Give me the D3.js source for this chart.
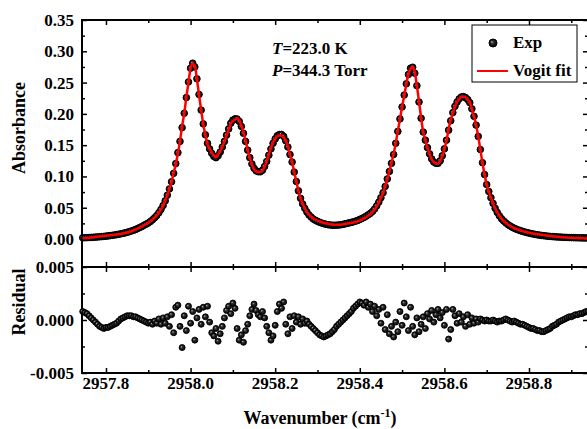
<!DOCTYPE html>
<html lang="en">
<head>
<meta charset="UTF-8">
<title>Absorbance and residual</title>
<script src="https://d3js.org/d3.v7.min.js"></script>
<style>
  body { margin: 0; background: #fff; }
  text { font-family: "Liberation Serif", "Times New Roman", serif; font-weight: bold; fill: #000; }
</style>
</head>
<body>
<script>
// sampling grid of the measured spectrum (cm-1)
const waveStart = 2957.745
const waveStep = 0.005

// measured absorbance, one value per grid point
const absorbance = [
  0.0020,0.0021,0.0023,0.0024,0.0026,0.0028,0.0030,0.0033,0.0036,0.0039,
  0.0042,0.0046,0.0050,0.0054,0.0059,0.0064,0.0070,0.0076,0.0083,0.0090,
  0.0098,0.0107,0.0117,0.0128,0.0140,0.0153,0.0168,0.0184,0.0200,0.0220,
  0.0238,0.0255,0.0280,0.0308,0.0340,0.0376,0.0420,0.0472,0.0535,0.0610,
  0.0700,0.0800,0.0915,0.1050,0.1205,0.1380,0.1560,0.1780,0.2010,0.2260,
  0.2510,0.2730,0.2810,0.2750,0.2560,0.2310,0.2060,0.1840,0.1665,0.1530,
  0.1440,0.1370,0.1320,0.1300,0.1330,0.1390,0.1470,0.1560,0.1660,0.1760,
  0.1850,0.1900,0.1920,0.1918,0.1880,0.1800,0.1690,0.1560,0.1420,0.1300,
  0.1200,0.1130,0.1090,0.1075,0.1075,0.1100,0.1160,0.1240,0.1340,0.1440,
  0.1530,0.1600,0.1650,0.1670,0.1670,0.1640,0.1570,0.1470,0.1350,0.1230,
  0.1070,0.0920,0.0770,0.0650,0.0560,0.0490,0.0430,0.0385,0.0350,0.0320,
  0.0300,0.0283,0.0268,0.0255,0.0245,0.0236,0.0229,0.0224,0.0221,0.0220,
  0.0221,0.0224,0.0228,0.0234,0.0242,0.0250,0.0258,0.0266,0.0275,0.0286,
  0.0298,0.0312,0.0328,0.0345,0.0365,0.0387,0.0410,0.0440,0.0480,0.0530,
  0.0590,0.0660,0.0740,0.0840,0.0960,0.1080,0.1210,0.1350,0.1530,0.1720,
  0.1920,0.2110,0.2300,0.2480,0.2630,0.2730,0.2745,0.2650,0.2450,0.2190,
  0.1930,0.1710,0.1580,0.1460,0.1360,0.1280,0.1230,0.1210,0.1210,0.1250,
  0.1330,0.1440,0.1580,0.1740,0.1890,0.2020,0.2120,0.2190,0.2240,0.2270,
  0.2275,0.2260,0.2230,0.2180,0.2080,0.1960,0.1820,0.1640,0.1430,0.1220,
  0.1030,0.0870,0.0760,0.0660,0.0570,0.0490,0.0425,0.0370,0.0325,0.0290,
  0.0260,0.0232,0.0210,0.0190,0.0173,0.0158,0.0145,0.0133,0.0122,0.0112,
  0.0103,0.0095,0.0087,0.0080,0.0073,0.0067,0.0062,0.0057,0.0053,0.0049,
  0.0045,0.0042,0.0039,0.0036,0.0034,0.0032,0.0030,0.0028,0.0027,0.0025,
  0.0024,0.0023,0.0022,0.0021,0.0020,0.0019,0.0018,0.0018,0.0017,0.0017
]

// residual (Exp - fit), same grid
const residual = [
  0.0008,0.0007,0.0006,0.0004,0.0002,0.0000,-0.0002,-0.0004,-0.0006,-0.0007,
  -0.0008,-0.0007,-0.0007,-0.0006,-0.0005,-0.0004,-0.0003,-0.0001,0.0001,0.0002,
  0.0003,0.0004,0.0004,0.0004,0.0003,0.0003,0.0002,0.0001,0.0000,-0.0001,
  -0.0002,-0.0003,-0.0002,-0.0004,-0.0001,-0.0003,0.0001,-0.0004,0.0002,-0.0003,
  0.0003,-0.0006,0.0005,-0.0012,0.0012,0.0014,-0.0006,-0.0026,0.0004,-0.0010,
  0.0013,-0.0003,0.0008,-0.0019,0.0002,0.0010,-0.0004,0.0012,0.0003,0.0013,
  -0.0002,-0.0012,-0.0015,-0.0008,-0.0020,-0.0013,-0.0006,0.0002,0.0009,0.0013,
  0.0006,0.0016,0.0011,-0.0008,-0.0019,-0.0014,-0.0021,-0.0010,-0.0004,0.0004,
  0.0010,0.0015,0.0009,0.0005,0.0003,0.0008,0.0002,-0.0006,-0.0012,-0.0019,
  -0.0015,-0.0005,0.0008,0.0015,0.0011,0.0017,-0.0004,-0.0013,0.0003,-0.0008,
  0.0004,-0.0002,0.0003,-0.0004,0.0001,-0.0003,-0.0001,-0.0004,-0.0006,-0.0008,
  -0.0010,-0.0012,-0.0014,-0.0015,-0.0016,-0.0015,-0.0014,-0.0013,-0.0011,-0.0009,
  -0.0006,-0.0004,-0.0002,0.0000,0.0002,0.0004,0.0006,0.0008,0.0011,0.0013,
  0.0015,0.0017,0.0016,0.0014,0.0017,0.0012,0.0015,0.0008,0.0013,0.0004,
  0.0010,-0.0003,0.0012,-0.0009,0.0005,-0.0013,-0.0006,-0.0016,-0.0002,-0.0011,
  0.0008,-0.0005,0.0016,0.0003,-0.0010,0.0012,-0.0006,-0.0014,0.0002,-0.0011,
  -0.0004,0.0003,-0.0008,0.0006,0.0001,0.0009,-0.0002,0.0005,0.0010,0.0002,
  0.0007,-0.0005,0.0010,-0.0018,-0.0009,0.0010,0.0004,-0.0003,0.0006,-0.0002,
  0.0003,-0.0006,0.0005,-0.0004,0.0002,-0.0003,0.0001,-0.0002,0.0001,0.0000,
  -0.0001,0.0000,-0.0001,-0.0001,0.0000,-0.0001,-0.0002,-0.0001,-0.0001,0.0000,
  0.0001,0.0000,-0.0001,-0.0002,-0.0001,-0.0002,-0.0003,-0.0004,-0.0004,-0.0005,
  -0.0006,-0.0007,-0.0008,-0.0008,-0.0009,-0.0010,-0.0010,-0.0011,-0.0011,-0.0010,
  -0.0009,-0.0008,-0.0006,-0.0005,-0.0004,-0.0002,-0.0001,0.0000,0.0001,0.0002,
  0.0003,0.0003,0.0004,0.0005,0.0005,0.0006,0.0006,0.0007,0.0008,0.0008
]

const xTicks = [2957.8, 2958.0, 2958.2, 2958.4, 2958.6, 2958.8]
const xTickLabels = ["2957.8", "2958.0", "2958.2", "2958.4", "2958.6", "2958.8"]
const xMinor = [2957.9, 2958.1, 2958.3, 2958.5, 2958.7, 2958.9]
const absTicks = [0.00, 0.05, 0.10, 0.15, 0.20, 0.25, 0.30, 0.35]
const absTickLabels = ["0.00", "0.05", "0.10", "0.15", "0.20", "0.25", "0.30", "0.35"]
const absMinor = [0.025, 0.075, 0.125, 0.175, 0.225, 0.275, 0.325]
const resTicks = [-0.005, 0.000, 0.005]
const resTickLabels = ["-0.005", "0.000", "0.005"]
const resMinor = [-0.0025, 0.0025]

const width = 587
const height = 429
const left = 82, right = 588
const top1 = 20, bot1 = 267, bot2 = 373

const pts = absorbance.map(function (a, i) {
  return { w: waveStart + i * waveStep, a: a, r: residual[i] }
})

const svg = d3.select("body").append("svg")
  .attr("width", width)
  .attr("height", height)

// shaded ball used for the Exp symbols
const grad = svg.append("defs").append("radialGradient")
  .attr("id", "ball").attr("cx", "50%").attr("cy", "50%").attr("r", "50%")
  .attr("fx", "35%").attr("fy", "35%")
grad.append("stop").attr("offset", "0%").attr("stop-color", "#bbb")
grad.append("stop").attr("offset", "35%").attr("stop-color", "#333")
grad.append("stop").attr("offset", "100%").attr("stop-color", "#000")

const x = d3.scaleLinear().domain([2957.7433, 2958.9395]).range([left, right])
const yA = d3.scaleLinear().domain([-0.0447, 0.35]).range([bot1, top1])
const yR = d3.scaleLinear().domain([-0.005, 0.005]).range([bot2, bot1])

// ticks pointing inward on all four sides of a panel
function frame(yScale, yMaj, yMin, yLabels, yTop, yBot) {
  const g = svg.append("g")
  g.append("g").attr("transform", `translate(0,${yBot})`)
    .call(d3.axisBottom(x).tickValues(xTicks).tickSize(-5).tickFormat(""))
  g.append("g").attr("transform", `translate(0,${yBot})`)
    .call(d3.axisBottom(x).tickValues(xMinor).tickSize(-3).tickFormat(""))
  g.append("g").attr("transform", `translate(0,${yTop})`)
    .call(d3.axisTop(x).tickValues(xTicks).tickSize(-5).tickFormat(""))
  g.append("g").attr("transform", `translate(0,${yTop})`)
    .call(d3.axisTop(x).tickValues(xMinor).tickSize(-3).tickFormat(""))
  g.append("g").attr("transform", `translate(${left},0)`)
    .call(d3.axisLeft(yScale).tickValues(yMaj).tickSize(-5).tickFormat(""))
  g.append("g").attr("transform", `translate(${left},0)`)
    .call(d3.axisLeft(yScale).tickValues(yMin).tickSize(-3).tickFormat(""))
  g.append("g").attr("transform", `translate(${right},0)`)
    .call(d3.axisRight(yScale).tickValues(yMaj).tickSize(-5).tickFormat(""))
  g.append("g").attr("transform", `translate(${right},0)`)
    .call(d3.axisRight(yScale).tickValues(yMin).tickSize(-3).tickFormat(""))
  g.selectAll(".domain").remove()
  g.selectAll(".tick line").attr("stroke", "#000").attr("stroke-width", 1.5)

  svg.append("rect")
    .attr("x", left).attr("y", yTop)
    .attr("width", right - left).attr("height", yBot - yTop)
    .attr("fill", "none").attr("stroke", "#000").attr("stroke-width", 2)

  svg.selectAll(null).data(yMaj).enter().append("text")
    .attr("x", left - 8)
    .attr("y", function (d) { return yScale(d) })
    .attr("dy", "0.35em")
    .attr("text-anchor", "end")
    .style("font-size", "17px")
    .text(function (d, i) { return yLabels[i] })
}

frame(yA, absTicks, absMinor, absTickLabels, top1, bot1)
frame(yR, resTicks, resMinor, resTickLabels, bot1, bot2)

// x tick labels under the residual panel
svg.selectAll(null).data(xTicks).enter().append("text")
  .attr("x", function (d) { return x(d) })
  .attr("y", 389)
  .attr("text-anchor", "middle")
  .style("font-size", "17px")
  .text(function (d, i) { return xTickLabels[i] })

// experimental points
svg.append("g").selectAll("circle").data(pts).enter().append("circle")
  .attr("cx", function (d) { return x(d.w) })
  .attr("cy", function (d) { return yA(d.a) })
  .attr("r", 3.3)
  .attr("fill", "url(#ball)")
  .attr("stroke", "#000")
  .attr("stroke-width", 1)

// fit = Exp - residual
const line = d3.line()
  .x(function (d) { return x(d.w) })
  .y(function (d) { return yA(d.a - d.r) })
  .curve(d3.curveMonotoneX)

svg.append("path").datum(pts)
  .attr("d", line)
  .attr("fill", "none")
  .attr("stroke", "#ff0000")
  .attr("stroke-width", 2.5)

// residual points
svg.append("g").selectAll("circle").data(pts).enter().append("circle")
  .attr("cx", function (d) { return x(d.w) })
  .attr("cy", function (d) { return yR(d.r) })
  .attr("r", 3)
  .attr("fill", "url(#ball)")
  .attr("stroke", "#000")
  .attr("stroke-width", 0.9)

// axis titles
svg.append("text")
  .attr("transform", "translate(25,128) rotate(-90)")
  .attr("text-anchor", "middle")
  .style("font-size", "18px")
  .text("Absorbance")

svg.append("text")
  .attr("transform", "translate(25,302) rotate(-90)")
  .attr("text-anchor", "middle")
  .style("font-size", "18px")
  .text("Residual")

const xt = svg.append("text")
  .attr("x", 320)
  .attr("y", 424)
  .attr("text-anchor", "middle")
  .style("font-size", "18px")
xt.append("tspan").text("Wavenumber (cm")
xt.append("tspan").attr("dy", -7).style("font-size", "12px").text("-1")
xt.append("tspan").attr("dy", 7).text(")")

// conditions
const cond = [["T", "=223.0 K"], ["P", "=344.3 Torr"]]
cond.forEach(function (c, i) {
  const t = svg.append("text")
    .attr("x", 272)
    .attr("y", 54 + i * 22)
    .style("font-size", "17px")
  t.append("tspan").style("font-style", "italic").text(c[0])
  t.append("tspan").text(c[1])
})

// legend
const lg = svg.append("g")
lg.append("rect")
  .attr("x", 472).attr("y", 25)
  .attr("width", 105).attr("height", 57)
  .attr("fill", "#fff").attr("stroke", "#000").attr("stroke-width", 1)
lg.append("circle")
  .attr("cx", 493).attr("cy", 43).attr("r", 4)
  .attr("fill", "url(#ball)").attr("stroke", "#000").attr("stroke-width", 1)
lg.append("text").attr("x", 513).attr("y", 48).style("font-size", "17px").text("Exp")
lg.append("line")
  .attr("x1", 477).attr("x2", 508).attr("y1", 71).attr("y2", 71)
  .attr("stroke", "#ff0000").attr("stroke-width", 2)
lg.append("text").attr("x", 513).attr("y", 76).style("font-size", "17px").text("Vogit fit")
</script>
</body>
</html>
